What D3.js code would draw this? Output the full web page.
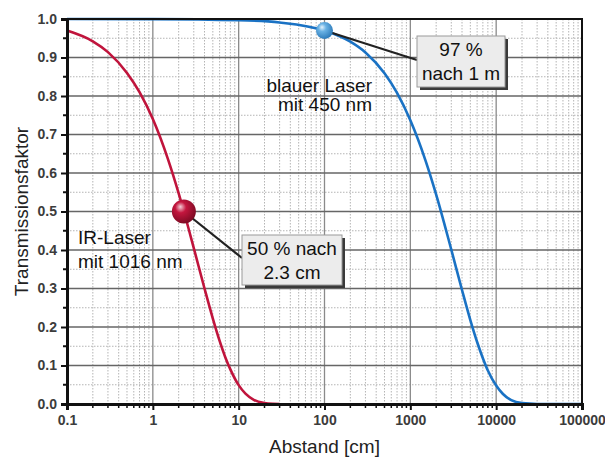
<!DOCTYPE html>
<html>
<head>
<meta charset="utf-8">
<script src="https://cdn.jsdelivr.net/npm/d3@7/dist/d3.min.js"></script>
<style>
  body { margin: 0; background: #fff; }
  svg { display: block; font-family: "Liberation Sans", Arial, sans-serif; }
</style>
</head>
<body>
<svg id="chart" width="605" height="459"></svg>
<script>
// distances in cm, transmission factor
const irDist = [0.1, 0.2, 0.3, 0.5, 0.7, 1, 1.5, 2, 2.3, 3, 4, 5, 6, 7, 8, 10, 12, 15, 20, 25, 30];
const irVals = [0.970, 0.942, 0.914, 0.860, 0.810, 0.740, 0.636, 0.547, 0.500, 0.405, 0.300, 0.222, 0.164, 0.121, 0.090, 0.049, 0.027, 0.011, 0.0024, 0.0005, 0.0001];
const blueDist = [0.1, 1, 10, 30, 100, 200, 300, 500, 700, 1000, 1500, 2000, 3000, 4000, 5000, 6000, 7000, 8000, 10000, 12000, 15000, 20000, 30000, 50000, 100000];
const blueVals = [1.0, 0.9997, 0.997, 0.991, 0.970, 0.941, 0.913, 0.859, 0.808, 0.737, 0.633, 0.544, 0.401, 0.296, 0.218, 0.161, 0.119, 0.087, 0.048, 0.026, 0.010, 0.0023, 0.0001, 0, 0];
const xTicks = [0.1, 1, 10, 100, 1000, 10000, 100000];
const yTicks = [0, 0.1, 0.2, 0.3, 0.4, 0.5, 0.6, 0.7, 0.8, 0.9, 1.0];

const MARGIN = { top: 19, right: 23, bottom: 55, left: 67 };
const WIDTH = 605 - MARGIN.left - MARGIN.right;
const HEIGHT = 459 - MARGIN.top - MARGIN.bottom;
const RED = '#c0143c';
const BLUE = '#1a72c4';
const LABEL_SIZE = 19;

const svg = d3.select('#chart');
const defs = svg.append('defs');

function ballGradient(id, light, mid, dark) {
  const g = defs.append('radialGradient').attr('id', id)
    .attr('cx', '40%').attr('cy', '38%').attr('r', '65%').attr('fx', '35%').attr('fy', '30%');
  g.append('stop').attr('offset', '0%').attr('stop-color', light);
  g.append('stop').attr('offset', '35%').attr('stop-color', mid);
  g.append('stop').attr('offset', '100%').attr('stop-color', dark);
}
ballGradient('ballRed', '#f4d0d8', '#c4163e', '#7a0a22');
ballGradient('ballBlue', '#e4f2fc', '#6ab2e4', '#2a78b8');

const chart = svg.append('g')
  .attr('transform', `translate(${MARGIN.left},${MARGIN.top})`);

const x = d3.scaleLog().domain([0.1, 100000]).range([0, WIDTH]);
const y = d3.scaleLinear().domain([0, 1]).range([HEIGHT, 0]);

// minor grid
const minorX = [];
xTicks.slice(0, -1).forEach(d => { for (let k = 2; k <= 9; k++) minorX.push(d * k); });
const minorY = yTicks.slice(0, -1).map(d => d + 0.05);

chart.append('g').selectAll('line').data(minorX).enter().append('line')
  .attr('x1', d => x(d)).attr('x2', d => x(d)).attr('y1', 0).attr('y2', HEIGHT)
  .attr('stroke', '#b4b4b4').attr('stroke-width', 1).attr('stroke-dasharray', '1.5,1.5');
chart.append('g').selectAll('line').data(minorY).enter().append('line')
  .attr('x1', 0).attr('x2', WIDTH).attr('y1', d => y(d)).attr('y2', d => y(d))
  .attr('stroke', '#b4b4b4').attr('stroke-width', 1).attr('stroke-dasharray', '1.5,1.5');

// major grid
chart.append('g').selectAll('line').data(xTicks.slice(1, -1)).enter().append('line')
  .attr('x1', d => x(d)).attr('x2', d => x(d)).attr('y1', 0).attr('y2', HEIGHT)
  .attr('stroke', '#8a8a8a').attr('stroke-width', 1.3);
chart.append('g').selectAll('line').data(yTicks.slice(1, -1)).enter().append('line')
  .attr('x1', 0).attr('x2', WIDTH).attr('y1', d => y(d)).attr('y2', d => y(d))
  .attr('stroke', '#666').attr('stroke-width', 1.3);

// curves
const line = d3.line().x(d => x(d[0])).y(d => y(d[1])).curve(d3.curveMonotoneX);
chart.append('path').datum(d3.zip(irDist, irVals))
  .attr('d', line).attr('fill', 'none').attr('stroke', RED).attr('stroke-width', 2.6);
chart.append('path').datum(d3.zip(blueDist, blueVals))
  .attr('d', line).attr('fill', 'none').attr('stroke', BLUE).attr('stroke-width', 2.6);

// frame
chart.append('rect').attr('width', WIDTH).attr('height', HEIGHT)
  .attr('fill', 'none').attr('stroke', '#111').attr('stroke-width', 2);

// axes
const xAxis = chart.append('g').attr('transform', `translate(0,${HEIGHT})`);
xAxis.selectAll('line.minor').data(minorX).enter().append('line')
  .attr('x1', d => x(d)).attr('x2', d => x(d)).attr('y1', 0).attr('y2', 4)
  .attr('stroke', '#111').attr('stroke-width', 1.5);
xAxis.call(d3.axisBottom(x).tickValues(xTicks).tickFormat(d3.format('~g')).tickSize(6).tickPadding(5));
xAxis.select('.domain').attr('stroke-width', 3).attr('stroke', '#111');
xAxis.selectAll('.tick line').attr('stroke-width', 2).attr('stroke', '#111');
xAxis.selectAll('.tick text').attr('font-size', 14).attr('font-weight', 'bold').attr('fill', '#3c3c3c')
  .attr('font-family', '"Liberation Sans", Arial, sans-serif');

const yAxis = chart.append('g');
yAxis.selectAll('line.minor').data(minorY).enter().append('line')
  .attr('x1', -4).attr('x2', 0).attr('y1', d => y(d)).attr('y2', d => y(d))
  .attr('stroke', '#111').attr('stroke-width', 2);
yAxis.call(d3.axisLeft(y).tickValues(yTicks).tickFormat(d3.format('.1f')).tickSize(6).tickPadding(4));
yAxis.select('.domain').attr('stroke-width', 3).attr('stroke', '#111');
yAxis.selectAll('.tick line').attr('stroke-width', 2).attr('stroke', '#111');
yAxis.selectAll('.tick text').attr('font-size', 14).attr('font-weight', 'bold').attr('fill', '#3c3c3c')
  .attr('font-family', '"Liberation Sans", Arial, sans-serif');

// axis titles
svg.append('text').attr('x', MARGIN.left + WIDTH / 2 + 0).attr('y', 453)
  .attr('text-anchor', 'middle').attr('font-size', LABEL_SIZE).attr('fill', '#222')
  .text('Abstand [cm]');
svg.append('text').attr('transform', `translate(28,${MARGIN.top + HEIGHT / 2}) rotate(-90)`)
  .attr('text-anchor', 'middle').attr('font-size', LABEL_SIZE).attr('fill', '#222')
  .text('Transmissionsfaktor');

// callouts
function callout(px, py, bx, by, bw, bh, lines, lineEnd) {
  chart.append('line').attr('x1', px).attr('y1', py).attr('x2', lineEnd[0]).attr('y2', lineEnd[1])
    .attr('stroke', '#222').attr('stroke-width', 2.2);
  chart.append('rect').attr('x', bx + 3).attr('y', by + 3).attr('width', bw).attr('height', bh)
    .attr('fill', '#3a3a3a');
  chart.append('rect').attr('x', bx).attr('y', by).attr('width', bw).attr('height', bh)
    .attr('fill', '#ececec').attr('stroke', '#9a9a9a').attr('stroke-width', 1);
  lines.forEach((t, i) => {
    chart.append('text').attr('x', bx + bw / 2).attr('y', by + 20 + i * 24)
      .attr('text-anchor', 'middle').attr('font-size', LABEL_SIZE).attr('fill', '#111').text(t);
  });
}

const bx1 = x(100), by1 = y(0.97);
callout(bx1, by1, 350, 17, 88, 51, ['97 %', 'nach 1 m'], [350, 41]);
const rx1 = x(2.3), ry1 = y(0.5);
callout(rx1, ry1, 175, 216, 100, 50, ['50 % nach', '2.3 cm'], [175, 239]);

chart.append('circle').attr('cx', bx1).attr('cy', by1).attr('r', 8.5).attr('fill', 'url(#ballBlue)');
chart.append('circle').attr('cx', rx1).attr('cy', ry1).attr('r', 12).attr('fill', 'url(#ballRed)');

// curve labels
[['blauer Laser', 73], ['mit 450 nm', 92]].forEach(([t, yy]) => {
  chart.append('text').attr('x', 305).attr('y', yy).attr('text-anchor', 'end')
    .attr('font-size', LABEL_SIZE).attr('fill', '#111').text(t);
});
[['IR-Laser', 225], ['mit 1016 nm', 249]].forEach(([t, yy]) => {
  chart.append('text').attr('x', 11).attr('y', yy)
    .attr('font-size', LABEL_SIZE).attr('fill', '#111').text(t);
});
</script>
</body>
</html>
